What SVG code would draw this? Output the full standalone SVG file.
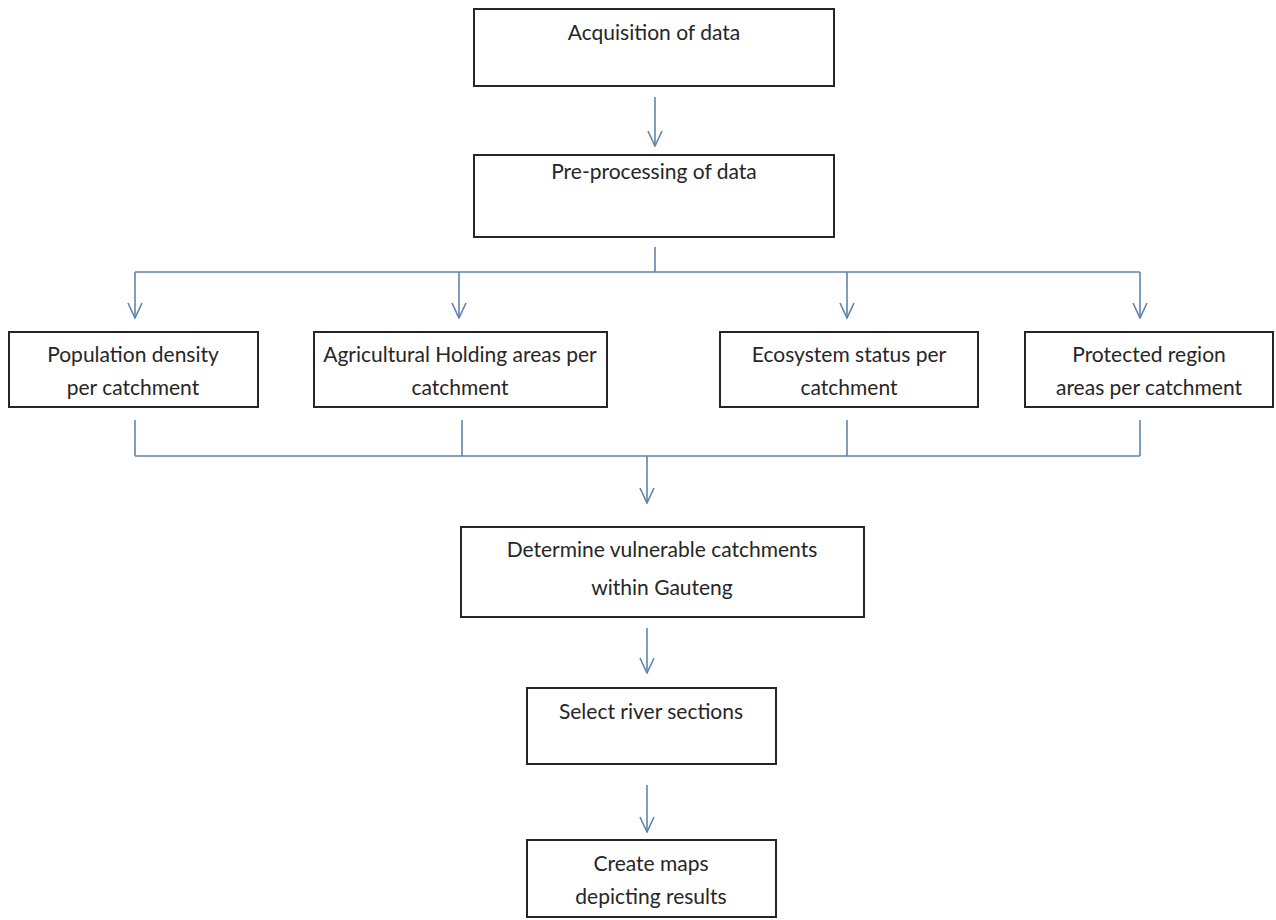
<svg xmlns="http://www.w3.org/2000/svg" width="1276" height="920" viewBox="0 0 1276 920">
<style>
.box{fill:#fff;stroke:#262626;stroke-width:2}
.t{font-family:Lato,"Liberation Sans",sans-serif;font-size:21px;fill:#262626;text-anchor:middle}
.c{fill:none;stroke:#5f84ab;stroke-width:1.6}
</style>
<defs>
<marker id="ah" viewBox="0 0 20 16" refX="19" refY="8" markerWidth="20" markerHeight="16" markerUnits="userSpaceOnUse" orient="auto">
<path d="M4,1 L19,8 L4,15" fill="none" stroke="#5f84ab" stroke-width="1.6"/>
</marker>
</defs>
<rect width="1276" height="920" fill="#fff"/>
<g id="connectors">
<line class="c" x1="655" y1="97" x2="655" y2="146" marker-end="url(#ah)"/>
<line class="c" x1="655" y1="247" x2="655" y2="272"/>
<line class="c" x1="135" y1="272" x2="1140" y2="272"/>
<line class="c" x1="135" y1="272" x2="135" y2="318" marker-end="url(#ah)"/>
<line class="c" x1="459" y1="272" x2="459" y2="318" marker-end="url(#ah)"/>
<line class="c" x1="847" y1="272" x2="847" y2="318" marker-end="url(#ah)"/>
<line class="c" x1="1140" y1="272" x2="1140" y2="318" marker-end="url(#ah)"/>
<line class="c" x1="135" y1="420" x2="135" y2="456"/>
<line class="c" x1="462" y1="420" x2="462" y2="456"/>
<line class="c" x1="847" y1="420" x2="847" y2="456"/>
<line class="c" x1="1140" y1="420" x2="1140" y2="456"/>
<line class="c" x1="135" y1="456" x2="1140" y2="456"/>
<line class="c" x1="647" y1="456" x2="647" y2="503" marker-end="url(#ah)"/>
<line class="c" x1="647" y1="628" x2="647" y2="673" marker-end="url(#ah)"/>
<line class="c" x1="647" y1="785" x2="647" y2="832" marker-end="url(#ah)"/>
</g>
<g id="acquisition">
<rect class="box" x="474" y="9" width="360" height="77"/>
<text class="t" x="654" y="40">Acquisition of data</text>
</g>
<g id="preprocessing">
<rect class="box" x="474" y="155" width="360" height="82"/>
<text class="t" x="654" y="179">Pre-processing of data</text>
</g>
<g id="population">
<rect class="box" x="9" y="332" width="249" height="75"/>
<text class="t" x="133" y="362">Population density</text>
<text class="t" x="133" y="395">per catchment</text>
</g>
<g id="agricultural">
<rect class="box" x="314" y="332" width="293" height="75"/>
<text class="t" x="460" y="362">Agricultural Holding areas per</text>
<text class="t" x="460" y="395">catchment</text>
</g>
<g id="ecosystem">
<rect class="box" x="720" y="332" width="258" height="75"/>
<text class="t" x="849" y="362">Ecosystem status per</text>
<text class="t" x="849" y="395">catchment</text>
</g>
<g id="protected">
<rect class="box" x="1025" y="332" width="248" height="75"/>
<text class="t" x="1149" y="362">Protected region</text>
<text class="t" x="1149" y="395">areas per catchment</text>
</g>
<g id="determine">
<rect class="box" x="461" y="527" width="403" height="90"/>
<text class="t" x="662" y="557">Determine vulnerable catchments</text>
<text class="t" x="662" y="595">within Gauteng</text>
</g>
<g id="select">
<rect class="box" x="527" y="688" width="249" height="76"/>
<text class="t" x="651" y="719">Select river sections</text>
</g>
<g id="create">
<rect class="box" x="527" y="840" width="249" height="77"/>
<text class="t" x="651" y="871">Create maps</text>
<text class="t" x="651" y="904">depicting results</text>
</g>
</svg>
